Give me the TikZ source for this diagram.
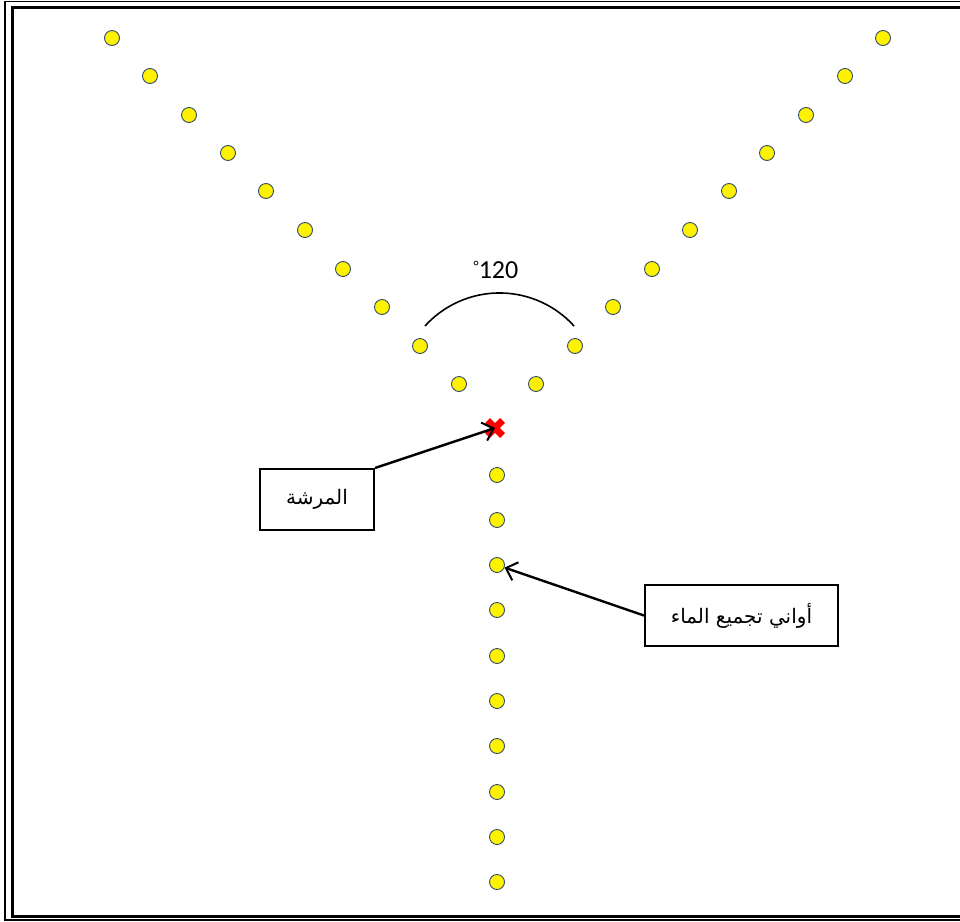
\documentclass[tikz,border=0pt]{standalone}
\usepackage{fontspec}
\usetikzlibrary{arrows.meta}
\TeXXeTstate=1
\newfontfamily\arabicfont[Script=Arabic]{DejaVu Sans}
\newfontfamily\carlito{Carlito}
\definecolor{dotedge}{HTML}{2F4A6D}
\tikzset{
  dot/.style={circle,draw=dotedge,fill=yellow,line width=0.9pt,minimum size=15pt,inner sep=0pt},
  labelbox/.style={draw=black,line width=2pt,minimum height=61pt,inner sep=0pt,font=\arabicfont\fontsize{20}{24}\selectfont},
  pointer/.style={line width=2.4pt,-{Straight Barb[length=10pt,width=19pt,line width=2pt]}}
}
\begin{document}
\begin{tikzpicture}[x=1pt,y=-1pt]
\useasboundingbox (0,0) rectangle (960,921);
% frame
\draw[line width=1.2pt] (5,1.5) rectangle (975,920);
\draw[line width=3pt] (12.5,7) rectangle (968,916);
% left arm
\foreach \i/\x/\y in {1/112/38,2/150/76,3/189/115,4/228/153,5/266/191,6/305/230,7/343/269,8/382/307,9/420/346,10/459/384}
  \node[dot] (l\i) at (\x,\y) {};
% right arm
\foreach \i/\x/\y in {1/883/38,2/845/76,3/806/115,4/767/153,5/729/191,6/690/230,7/652/269,8/613/307,9/575/346,10/536/384}
  \node[dot] (r\i) at (\x,\y) {};
% vertical arm
\foreach \i/\y in {1/475,2/520,3/565,4/610,5/656,6/701,7/746,8/792,9/837,10/882}
  \node[dot] (v\i) at (497,\y) {};
% sprinkler
\coordinate (spr) at (495,428);
\draw[red,line width=7pt] (487.5,420.5) -- (502.5,435.5) (502.5,420.5) -- (487.5,435.5);
% angle arc
\draw[line width=1.6pt] (425,326) arc[start angle=-137.8,end angle=-42.2,radius=100.6];
\node[font=\carlito\fontsize{26}{30}\selectfont,inner sep=0pt] (ang) at (496,270) {\raisebox{0.6ex}{\fontsize{15}{15}\selectfont°}120};
% label boxes
\node[labelbox,minimum width=114pt] (b1) at (317,499.5) {\beginR المرشة\endR};
\node[labelbox,minimum width=193pt] (b2) at (741.5,615.5) {\beginR أواني تجميع الماء\endR};
% arrows
\draw[pointer] (b1.north east) -- (spr);
\draw[pointer] (b2.west) -- (v3);
\end{tikzpicture}
\end{document}
